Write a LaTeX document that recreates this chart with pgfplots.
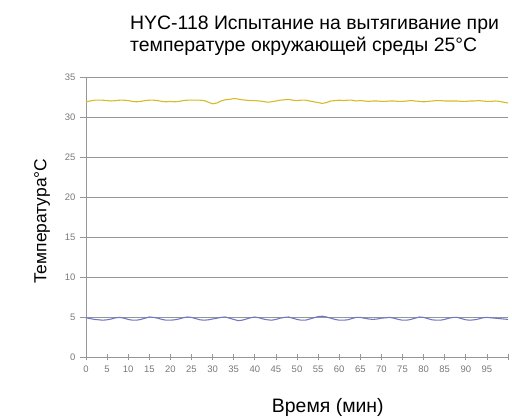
\documentclass[border=0pt]{standalone}
\usepackage{fontspec}
\setmainfont{Liberation Sans}
\usepackage{pgfplots}
\pgfplotsset{compat=1.18}
\usepackage{pgfplotstable}

\definecolor{gold}{RGB}{214,186,40}
\definecolor{lineblue}{RGB}{112,120,196}
\definecolor{gridgray}{RGB}{150,150,150}
\definecolor{ticktext}{RGB}{120,120,120}

% t, upper (yellow), lower (blue)
\pgfplotstableread{
t  up    lo
0  31.9  4.9
1  32.0  4.8
2  32.1  4.7
3  32.1  4.65
4  32.1  4.6
5  32.05 4.65
6  32.0  4.75
7  32.05 4.9
8  32.1  4.95
9  32.1  4.85
10 32.05 4.7
11 31.95 4.6
12 31.9  4.6
13 31.95 4.7
14 32.05 4.85
15 32.1  5.0
16 32.1  4.95
17 32.05 4.85
18 31.95 4.7
19 31.9  4.6
20 31.95 4.6
21 31.9  4.65
22 31.95 4.75
23 32.05 4.9
24 32.1  5.0
25 32.1  4.95
26 32.1  4.8
27 32.1  4.65
28 32.05 4.6
29 31.85 4.65
30 31.65 4.75
31 31.75 4.85
32 32.0  4.95
33 32.15 5.0
34 32.2  4.85
35 32.3  4.7
36 32.25 4.55
37 32.15 4.6
38 32.1  4.75
39 32.05 4.9
40 32.05 5.0
41 32.0  4.9
42 31.95 4.75
43 31.85 4.65
44 31.9  4.6
45 32.0  4.7
46 32.1  4.85
47 32.15 4.95
48 32.2  5.0
49 32.1  4.85
50 32.05 4.7
51 32.1  4.6
52 32.1  4.6
53 32.0  4.75
54 31.9  4.9
55 31.8  5.05
56 31.7  5.1
57 31.8  5.0
58 32.0  4.85
59 32.05 4.7
60 32.1  4.6
61 32.05 4.6
62 32.1  4.65
63 32.1  4.8
64 32.0  4.95
65 32.05 4.95
66 32.0  4.85
67 31.95 4.75
68 32.0  4.7
69 32.0  4.75
70 31.95 4.85
71 31.95 4.9
72 32.0  4.95
73 32.0  4.85
74 31.95 4.7
75 31.95 4.6
76 32.0  4.6
77 32.05 4.7
78 32.0  4.85
79 31.95 5.0
80 31.9  4.95
81 31.95 4.8
82 32.0  4.65
83 32.05 4.6
84 32.05 4.6
85 32.0  4.7
86 32.0  4.85
87 32.0  4.95
88 32.0  4.95
89 31.95 4.8
90 31.95 4.65
91 32.0  4.6
92 32.0  4.65
93 32.05 4.75
94 32.0  4.9
95 31.95 4.95
96 31.95 4.9
97 32.0  4.85
98 31.95 4.8
99 31.85 4.75
100 31.75 4.7
}\temps

\begin{document}
\begin{tikzpicture}
\path[use as bounding box] (-86bp,-62bp) rectangle (426bp,357bp);
\begin{axis}[
  scale only axis,
  width=422bp, height=280bp,
  xmin=0, xmax=100, ymin=0, ymax=35,
  axis lines*=left,
  axis line style={gridgray, line width=0.9pt},
  xtick={0,5,...,95}, ytick={0,5,...,35},
  extra x ticks={100}, extra x tick labels={},
  extra x tick style={grid=none},
  ymajorgrids,
  grid style={gridgray, line width=0.9pt},
  x tick style={gridgray, line width=0.8pt},
  y tick style={gridgray, line width=0.8pt},
  xtick align=center, ytick align=outside,
  major tick length=6bp,
  tick label style={font=\fontsize{9.5}{11}\selectfont, text=ticktext},
  /pgf/number format/assume math mode=true,
  xticklabel style={yshift=-2bp},
  yticklabel style={xshift=-1bp},
  xlabel={Время (мин)},
  ylabel={Температура°C},
  xlabel style={font=\fontsize{19.5}{22}\selectfont, at={(axis description cs:0.573,0)}, anchor=center, yshift=-50bp},
  ylabel style={font=\fontsize{17.5}{20}\selectfont, at={(axis description cs:-0.104,0.485)}, anchor=center},
  clip=false,
]
\addplot[lineblue, line width=1.1pt] table[x=t, y=lo] {\temps};
\addplot[gold, line width=1.1pt] table[x=t, y=up] {\temps};
\end{axis}
\node[align=left, font=\fontsize{19.5}{23}\selectfont, anchor=base west, inner sep=0pt] at (44bp,305bp)
  {HYC-118 Испытание на вытягивание при\\температуре окружающей среды 25°C};
\end{tikzpicture}
\end{document}
